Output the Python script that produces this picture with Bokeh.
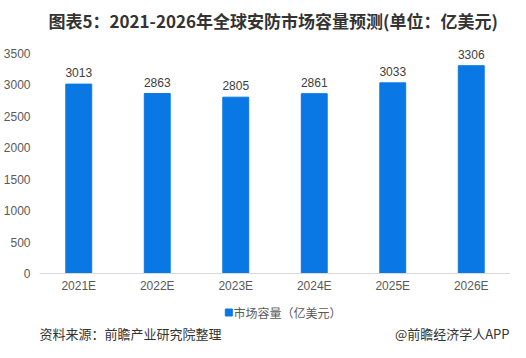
from bokeh.plotting import figure
from bokeh.models import ColumnDataSource, Range1d, FactorRange, LabelSet, FixedTicker
from bokeh.layouts import column
from bokeh.core.properties import value
from bokeh.embed import file_html
from bokeh.resources import INLINE

categories = ["2021E", "2022E", "2023E", "2024E", "2025E", "2026E"]
values = [3013, 2863, 2805, 2861, 3033, 3306]
y_ticks = [0, 500, 1000, 1500, 2000, 2500, 3000, 3500]
title_text = "图表5：2021-2026年全球安防市场容量预测(单位：亿美元)"
legend_text = "市场容量（亿美元）"
source_text = "资料来源：前瞻产业研究院整理"
brand_text = "@前瞻经济学人APP"

BAR = "#0A78E4"
GREY = "#595959"
CJK = "Noto Sans CJK SC"
LAT = "Liberation Sans"
W = 510


def blank(h):
    f = figure(width=W, height=h, x_range=Range1d(0, W), y_range=Range1d(0, h),
               output_backend="svg", toolbar_location=None,
               min_border_left=0, min_border_right=0, min_border_top=0, min_border_bottom=0)
    f.axis.visible = False
    f.grid.visible = False
    f.outline_line_color = None
    return f


# ---- header ----
HH = 37
head = blank(HH)
head.text(x=[253], y=[HH - 20], text=[title_text], text_align="center", text_baseline="middle",
          text_font=value(CJK), text_font_style="bold", text_font_size="17px", text_color="#333333")

# ---- main chart ----
FH = 236
MH = 261
y_end = FH * 3500 / 220
src = ColumnDataSource(dict(cat=categories, val=values, lab=[str(v) for v in values]))

p = figure(width=W, height=MH, x_range=FactorRange(*categories), y_range=Range1d(0, y_end),
           output_backend="svg", toolbar_location=None,
           min_border_left=35, min_border_right=0, min_border_top=0, min_border_bottom=MH - FH)
p.outline_line_color = None
p.grid.visible = False
p.x_range.range_padding = 0
p.x_range.factor_padding = 0

p.vbar(x="cat", top="val", width=0.33, color=BAR, source=src)

p.add_layout(LabelSet(x="cat", y="val", text="lab", source=src, y_offset=7,
                      text_align="center", text_baseline="bottom",
                      text_font_size="12px", text_color="#404040", text_font=value(LAT)))

p.yaxis.ticker = FixedTicker(ticks=y_ticks)
p.yaxis.axis_line_color = None
p.yaxis.major_tick_line_color = None
p.yaxis.minor_tick_line_color = None
p.yaxis.major_tick_out = 0
p.yaxis.major_label_standoff = 9
p.yaxis.major_label_text_font_size = "12px"
p.yaxis.major_label_text_color = GREY
p.yaxis.major_label_text_font = LAT

p.xaxis.axis_line_color = "#D9D9D9"
p.xaxis.major_tick_line_color = None
p.xaxis.minor_tick_line_color = None
p.xaxis.major_tick_out = 0
p.xaxis.major_label_standoff = 5
p.xaxis.major_label_text_font_size = "12px"
p.xaxis.major_label_text_color = GREY
p.xaxis.major_label_text_font = LAT

# ---- footer: legend + source ----
FTH = 47
foot = blank(FTH)
foot.scatter(x=[205], y=[FTH - 14], marker="square", size=7, color=BAR)
foot.text(x=[210], y=[FTH - 14], text=[legend_text], text_align="left", text_baseline="middle",
          text_font=value(CJK), text_font_size="12px", text_color=GREY)
foot.text(x=[0], y=[FTH - 35], text=[source_text], text_align="left", text_baseline="middle",
          text_font=value(CJK), text_font_size="13px", text_color="#333333")
foot.text(x=[509], y=[FTH - 35], text=[brand_text], text_align="right", text_baseline="middle",
          text_font=value(CJK), text_font_size="13px", text_color="#333333")

layout = column(head, p, foot, spacing=0)
open("out.html", "w").write(file_html(layout, INLINE))
